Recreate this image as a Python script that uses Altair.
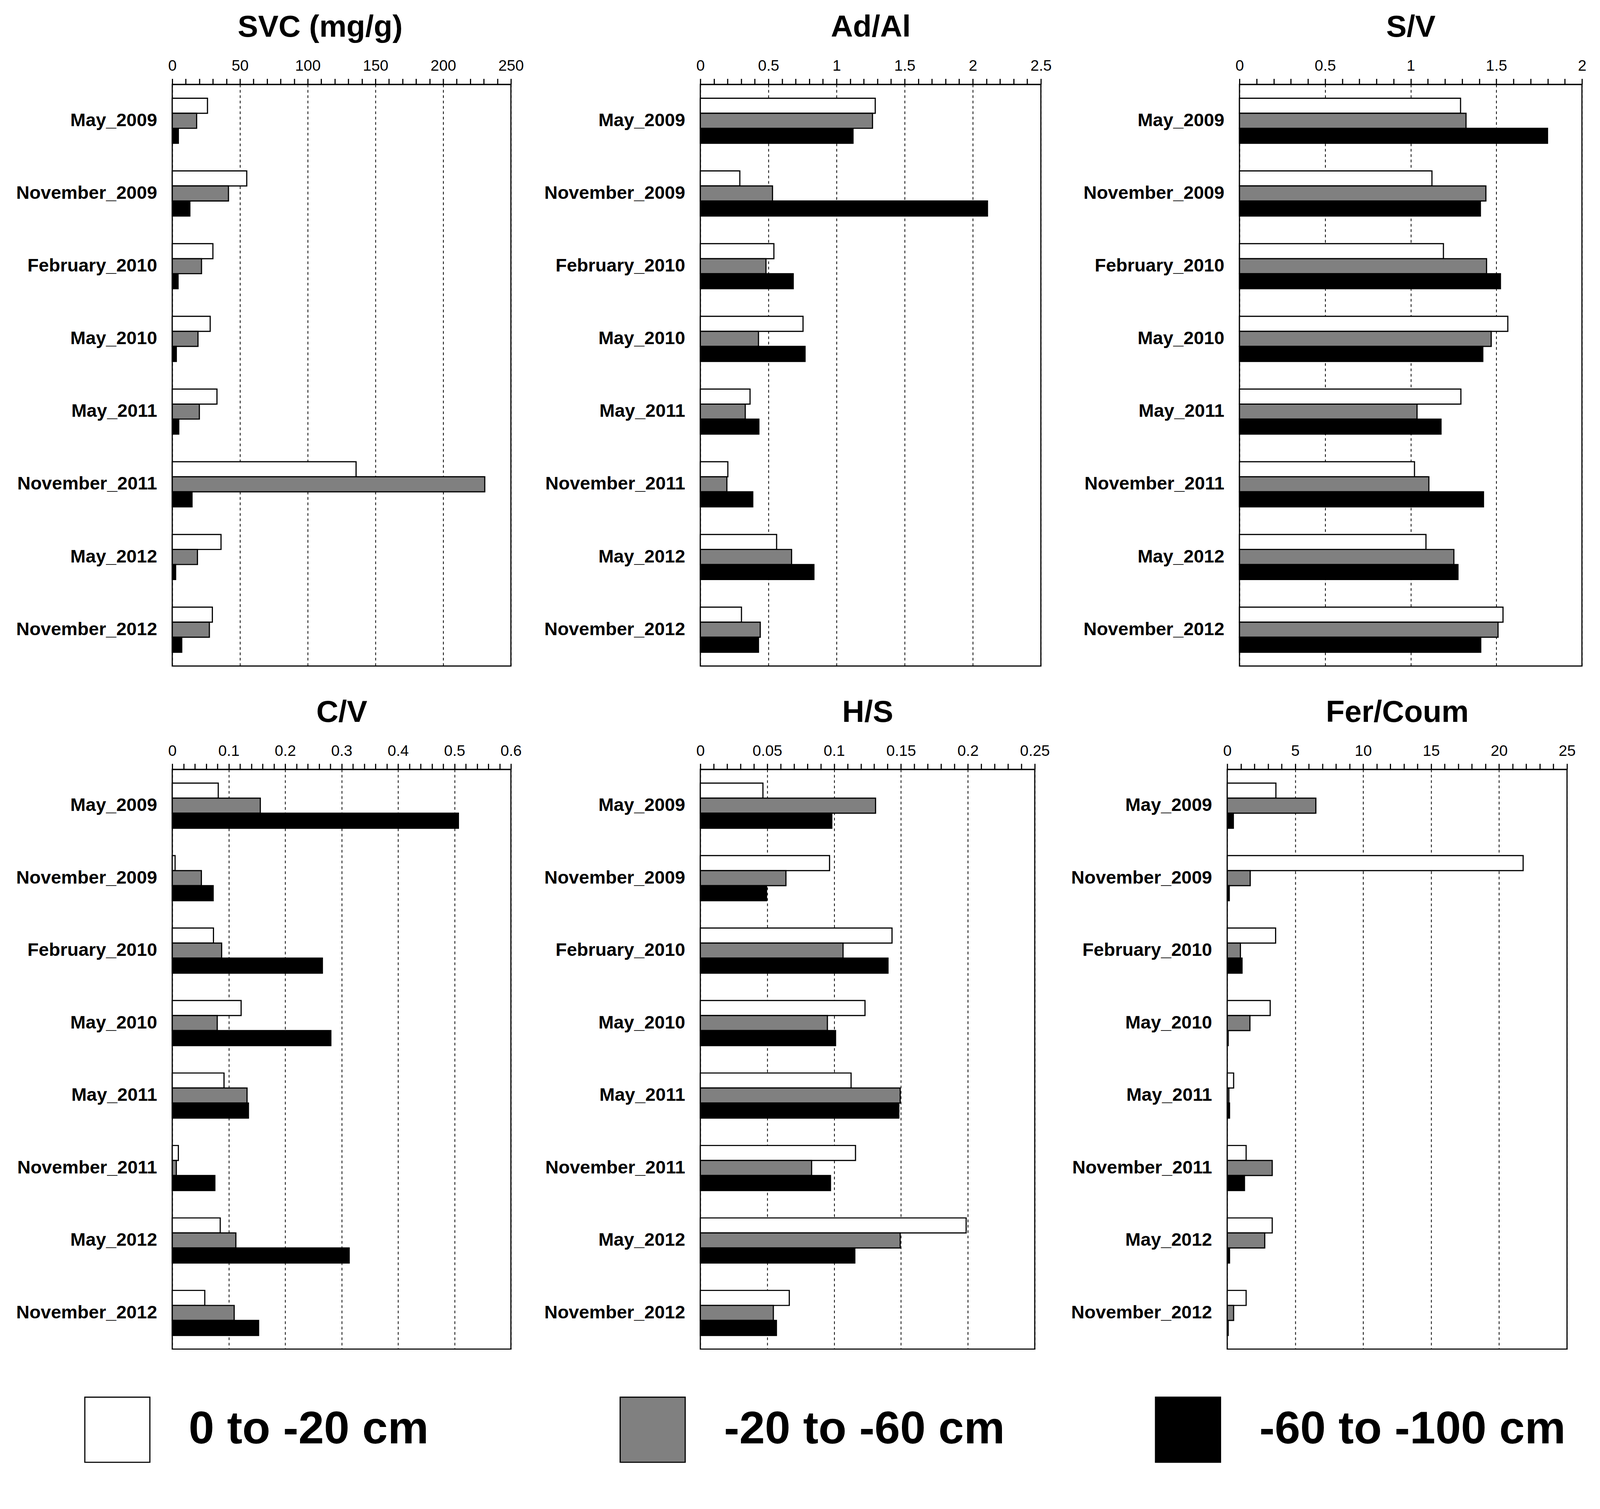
import altair as alt
import pandas as pd

dates = ["May_2009", "November_2009", "February_2010", "May_2010",
         "May_2011", "November_2011", "May_2012", "November_2012"]
depths = ["0 to -20 cm", "-20 to -60 cm", "-60 to -100 cm"]
depth_colors = ["white", "#808080", "black"]

# one list per depth, in the order of `dates`
svc_0_20 = [26, 55, 30, 28, 33, 135.7, 36, 29.6]
svc_20_60 = [18, 41.5, 21.6, 19, 20, 230.7, 18.6, 27.4]
svc_60_100 = [4.5, 13, 4.3, 3, 4.8, 14.6, 2.5, 7]

adal_0_20 = [1.284, 0.29, 0.54, 0.754, 0.365, 0.202, 0.56, 0.302]
adal_20_60 = [1.264, 0.53, 0.482, 0.427, 0.33, 0.195, 0.67, 0.44]
adal_60_100 = [1.121, 2.108, 0.682, 0.769, 0.43, 0.385, 0.834, 0.427]

sv_0_20 = [1.291, 1.124, 1.191, 1.567, 1.293, 1.022, 1.089, 1.539]
sv_20_60 = [1.323, 1.439, 1.443, 1.470, 1.037, 1.106, 1.252, 1.510]
sv_60_100 = [1.799, 1.407, 1.524, 1.421, 1.177, 1.425, 1.276, 1.409]

cv_0_20 = [0.0815, 0.005, 0.073, 0.122, 0.0917, 0.0108, 0.085, 0.0576]
cv_20_60 = [0.156, 0.0516, 0.0875, 0.0797, 0.1325, 0.0072, 0.1127, 0.1097]
cv_60_100 = [0.507, 0.0725, 0.266, 0.281, 0.135, 0.0755, 0.3135, 0.153]

hs_0_20 = [0.0468, 0.0966, 0.1433, 0.1231, 0.1127, 0.116, 0.1987, 0.0665]
hs_20_60 = [0.131, 0.064, 0.1067, 0.095, 0.1494, 0.0832, 0.1494, 0.0546]
hs_60_100 = [0.0983, 0.0495, 0.1403, 0.1011, 0.1484, 0.0973, 0.1155, 0.0569]

fc_0_20 = [3.58, 21.77, 3.56, 3.16, 0.47, 1.39, 3.31, 1.39]
fc_20_60 = [6.52, 1.69, 0.97, 1.67, 0.12, 3.31, 2.76, 0.47]
fc_60_100 = [0.45, 0.15, 1.09, 0.07, 0.17, 1.27, 0.17, 0.07]

FONT = "Arial, Liberation Sans, sans-serif"


def make_df(series):
    rows = []
    for depth, vals in zip(depths, series):
        for date, v in zip(dates, vals):
            rows.append({"date": date, "depth": depth, "value": v})
    return pd.DataFrame(rows)


def panel(title, xmax, major, minor, series, width, height, extent, title_x=None):
    n = int(round(xmax / minor))
    tick_values = [round(i * minor, 6) for i in range(n + 1)]
    is_major = f"abs(datum.value / {major} - round(datum.value / {major})) < 1e-6"
    axis_opts = dict(
        orient="top", title=title, values=tick_values,
        labelExpr=f"{is_major} ? '' + datum.value : ''",
        grid=True,
        gridOpacity=alt.condition(is_major, alt.value(1), alt.value(0)),
        gridColor="black", gridDash=[7, 7], gridWidth=2,
        domainColor="black", domainWidth=3,
        tickColor="black", tickWidth=3, tickSize=15,
        labelFontSize=40, labelColor="black", labelPadding=13,
        labelFlush=False, labelOverlap=False,
        titleFontSize=80, titleFontWeight="bold", titleColor="black",
        titlePadding=40,
    )
    if title_x is not None:
        axis_opts["titleX"] = title_x
    y_axis = alt.Axis(
        ticks=False, domain=False, labelFontSize=48, labelFontWeight="bold",
        labelColor="black", labelPadding=40, labelLimit=600,
        minExtent=extent, maxExtent=extent,
    )
    # legend position is relative to the first panel's plot area
    legend = alt.Legend(
        orient="none", legendX=-230, legendY=3429, direction="horizontal",
        title=None, symbolType="square", symbolSize=28900,
        symbolStrokeColor="black", symbolStrokeWidth=3, symbolOpacity=1,
        labelFontSize=120, labelFontWeight="bold", labelColor="black",
        labelOffset=100, labelLimit=1200, columnPadding=320, gridAlign="all",
    )
    return (
        alt.Chart(make_df(series))
        .mark_bar(stroke="black", strokeWidth=3, opacity=1)
        .encode(
            x=alt.X("value:Q", scale=alt.Scale(domain=[0, xmax], nice=False),
                    axis=alt.Axis(**axis_opts)),
            y=alt.Y("date:N", sort=dates, title=None,
                    scale=alt.Scale(paddingInner=0.38, paddingOuter=0.19), axis=y_axis),
            yOffset=alt.YOffset("depth:N", sort=depths, scale=alt.Scale(paddingInner=0)),
            color=alt.Color("depth:N", sort=depths,
                            scale=alt.Scale(domain=depths, range=depth_colors),
                            legend=legend),
        )
        .properties(width=width, height=height)
    )


top = alt.hconcat(
    panel("SVC (mg/g)", 250, 50, 10, [svc_0_20, svc_20_60, svc_60_100], 885, 1520, 420, title_x=386),
    panel("Ad/Al", 2.5, 0.5, 0.1, [adal_0_20, adal_20_60, adal_60_100], 890, 1520, 420),
    panel("S/V", 2, 0.5, 0.1, [sv_0_20, sv_20_60, sv_60_100], 895, 1520, 449),
    spacing=38,
)
bottom = alt.hconcat(
    panel("C/V", 0.6, 0.1, 0.02, [cv_0_20, cv_20_60, cv_60_100], 885, 1515, 420),
    panel("H/S", 0.25, 0.05, 0.01, [hs_0_20, hs_20_60, hs_60_100], 874, 1515, 420),
    panel("Fer/Coum", 25, 5, 1, [fc_0_20, fc_20_60, fc_60_100], 888, 1515, 417),
    spacing=43,
)

chart = (
    alt.vconcat(top, bottom, spacing=77)
    .properties(padding={"left": 20, "top": -18, "right": 26, "bottom": 5})
    .configure(font=FONT)
    .configure_view(stroke="black", strokeWidth=3)
)

chart.save("out.html", embed_options={"renderer": "svg", "actions": False})
